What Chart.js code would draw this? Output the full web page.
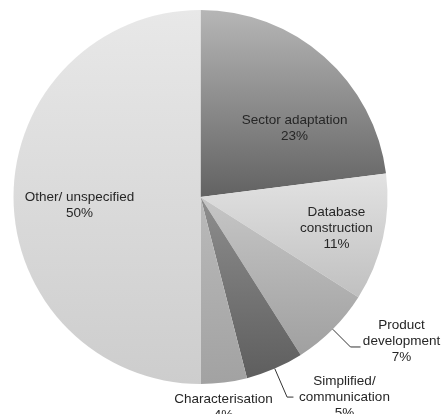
<!DOCTYPE html>
<html>
<head>
<meta charset="utf-8">
<script src="https://cdn.jsdelivr.net/npm/chart.js@4.4.1/dist/chart.umd.min.js"></script>
<style>
  html, body { margin: 0; padding: 0; background: #fff; }
  #wrap { width: 443px; height: 414px; position: relative; }
</style>
</head>
<body>
<div id="wrap"><canvas id="pieChart"></canvas></div>
<script>
// slices, clockwise from 12 o'clock
const categories = [
    ['Sector adaptation'],
    ['Database', 'construction'],
    ['Product', 'development'],
    ['Simplified/', 'communication'],
    ['Characterisation'],
    ['Other/ unspecified']
];
const shares = [23, 11, 7, 5, 4, 50];

// top / bottom shade of each slice's vertical gradient
const shadeTop = ['#b6b6b6', '#e2e2e2', '#c6c6c6', '#8e8e8e', '#bababa', '#e8e8e8'];
const shadeBottom = ['#626262', '#c0c0c0', '#a0a0a0', '#5e5e5e', '#a2a2a2', '#cdcdcd'];

// where the text sits, as a fraction of the radius from the centre
const labelPos = [
    { fx: 0.503, fy: -0.369 },
    { fx: 0.727, fy: 0.166 },
    { fx: 1.075, fy: 0.770, leader: { fy: 0.802, fx: 0.856 } },
    { fx: 0.770, fy: 1.070, leader: { fy: 1.070, fx: 0.497 } },
    { fx: 0.123, fy: 1.123 },
    { fx: -0.647, fy: 0.043 }
];

const total = shares.reduce((a, b) => a + b, 0);

function sliceGradient(ctx) {
    const chart = ctx.chart;
    const area = chart.chartArea;
    const i = ctx.dataIndex;
    if (!area || i === undefined) return shadeBottom[i] || '#ccc';
    const cx = (area.left + area.right) / 2;
    const cy = (area.top + area.bottom) / 2;
    const r = Math.min(area.right - area.left, area.bottom - area.top) / 2;

    let before = 0;
    for (let k = 0; k < i; k++) before += shares[k];
    const a0 = -Math.PI / 2 + before / total * Math.PI * 2;
    const a1 = a0 + shares[i] / total * Math.PI * 2;

    // vertical extent of the slice
    const ys = [cy, cy + r * Math.sin(a0), cy + r * Math.sin(a1)];
    const wrapIn = (a, t) => {
        let x = t;
        while (x < a0) x += Math.PI * 2;
        return x <= a1;
    };
    if (wrapIn(a0, -Math.PI / 2)) ys.push(cy - r);
    if (wrapIn(a0, Math.PI / 2)) ys.push(cy + r);
    const y0 = Math.min(...ys), y1 = Math.max(...ys);

    const g = chart.ctx.createLinearGradient(0, y0, 0, y1);
    g.addColorStop(0, shadeTop[i]);
    g.addColorStop(1, shadeBottom[i]);
    return g;
}

const sliceLabels = {
    id: 'sliceLabels',
    afterDatasetsDraw(chart) {
        const c = chart.ctx;
        const arcs = chart.getDatasetMeta(0).data;
        c.save();
        c.font = '13.5px "Liberation Sans", Arial, Helvetica, sans-serif';
        c.fillStyle = '#262626';
        c.textAlign = 'center';
        c.textBaseline = 'middle';
        arcs.forEach((arc, i) => {
            const p = arc.getProps(['x', 'y', 'outerRadius', 'startAngle', 'endAngle'], true);
            const r = p.outerRadius;
            const pos = labelPos[i];
            const lines = categories[i].concat([shares[i] + '%']);
            const lh = 16;
            const bx = p.x + pos.fx * r;
            const by = p.y + pos.fy * r;
            lines.forEach((t, k) => {
                c.fillText(t, bx, by + (k - (lines.length - 1) / 2) * lh);
            });

            if (pos.leader) {
                const mid = (p.startAngle + p.endAngle) / 2;
                const sx = p.x + Math.cos(mid) * r;
                const sy = p.y + Math.sin(mid) * r;
                const ly = p.y + pos.leader.fy * r;
                // follow the radial direction down to the line's height
                const t = (ly - sy) / Math.sin(mid);
                const ex = sx + Math.cos(mid) * t;
                c.beginPath();
                c.strokeStyle = '#333';
                c.lineWidth = 1;
                c.moveTo(sx, sy);
                c.lineTo(ex, ly);
                c.lineTo(p.x + pos.leader.fx * r, ly);
                c.stroke();
            }
        });
        c.restore();
    }
};

new Chart(document.getElementById('pieChart'), {
    type: 'pie',
    data: {
        labels: categories.map(l => l.join(' ')),
        datasets: [{
            data: shares,
            backgroundColor: sliceGradient,
            borderWidth: 0
        }]
    },
    options: {
        responsive: true,
        maintainAspectRatio: false,
        animation: false,
        events: [],
        layout: { padding: { left: 13, right: 55, top: 10, bottom: 30 } },
        plugins: {
            legend: { display: false },
            tooltip: { enabled: false }
        }
    },
    plugins: [sliceLabels]
});
</script>
</body>
</html>
